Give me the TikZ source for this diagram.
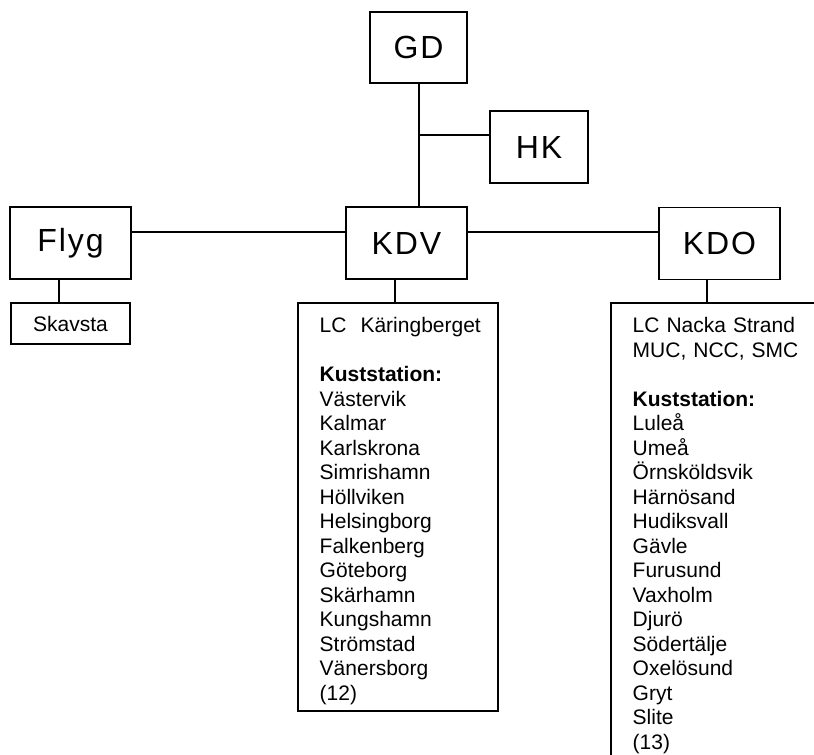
\documentclass[tikz,border=0pt]{standalone}
\usepackage{fontspec}
\setmainfont{Liberation Sans}
\newfontfamily\bigfont[LetterSpace=6]{Liberation Sans}
\usetikzlibrary{positioning}

\begin{document}
\begin{tikzpicture}[x=0.75pt,y=-0.75pt,line width=1.1pt]
		\tikzstyle{every node}+=[inner sep=0pt]
		\tikzstyle{unitbox}=[draw,minimum width=90.75pt,minimum height=54pt,font=\bigfont\fontsize{24}{28}\selectfont]
		\tikzstyle{listbox}=[draw,minimum width=89.25pt,minimum height=30.75pt,font=\fontsize{15.75}{18.375}\selectfont]
		\tikzstyle{listtext}=[anchor=base west,text width=150pt,align=left,font=\fontsize{15.75}{18.375}\selectfont]
		\useasboundingbox (0,0) rectangle (814,755);
		\clip (0,0) rectangle (814,755);
		% top
		\node [unitbox,minimum width=72.75pt,minimum height=53.25pt] (gd) at (418.5,47.5) {GD};
		\node [unitbox,minimum width=73.5pt] (hk) at (539,147) {HK};
		% main row
		\node [unitbox] (flyg) at (70.5,243) {Flyg};
		\node [unitbox] (kdv) at (406.5,243) {KDV};
		\node [unitbox] (kdo) at (719.5,243.5) {KDO};
		% lists
		\node [listbox] (skavsta) at (70.5,323.5) {Skavsta};
		\node [draw,minimum width=150pt,minimum height=306pt] (kdvlist) at (398,507) {};
		\node [draw,minimum width=164.25pt,minimum height=350.25pt] (kdolist) at (720.5,536.5) {};
		\node [listtext] (kdvtext) at (319,333) {LC\ \ Käringberget\\ \mbox{}\\ \textbf{Kuststation:}\\ Västervik\\ Kalmar\\ Karlskrona\\ Simrishamn\\ Höllviken\\ Helsingborg\\ Falkenberg\\ Göteborg\\ Skärhamn\\ Kungshamn\\ Strömstad\\ Vänersborg\\ (12)};
		\node [listtext] (kdotext) at (632,333) {LC Nacka Strand\\ MUC, NCC, SMC\\ \mbox{}\\ \textbf{Kuststation:}\\ Luleå\\ Umeå\\ Örnsköldsvik\\ Härnösand\\ Hudiksvall\\ Gävle\\ Furusund\\ Vaxholm\\ Djurö\\ Södertälje\\ Oxelösund\\ Gryt\\ Slite\\ (13)};
		% connectors
		\coordinate (hkjoin) at (419,135);
		\coordinate (mainrow) at (0,232);
		\coordinate (flygdrop) at (59,0);
		\coordinate (kdvdrop) at (395,0);
		\coordinate (kdodrop) at (707,0);
		\draw (hkjoin |- gd.south) -- (hkjoin |- kdv.north);
		\draw (hkjoin) -- (hkjoin -| hk.west);
		\draw (flyg.east |- mainrow) -- (kdv.west |- mainrow);
		\draw (kdv.east |- mainrow) -- (kdo.west |- mainrow);
		\draw (flygdrop |- flyg.south) -- (flygdrop |- skavsta.north);
		\draw (kdvdrop |- kdv.south) -- (kdvdrop |- kdvlist.north);
		\draw (kdodrop |- kdo.south) -- (kdodrop |- kdolist.north);
\end{tikzpicture}
\end{document}
